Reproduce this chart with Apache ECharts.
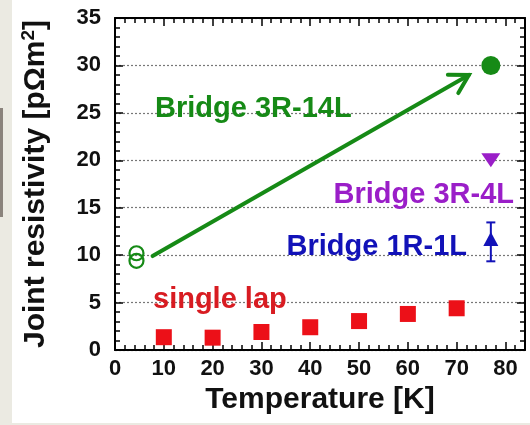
<!DOCTYPE html>
<html><head><meta charset="utf-8">
<script src="https://cdn.jsdelivr.net/npm/echarts@6/dist/echarts.min.js"></script>
<style>html,body{margin:0;padding:0;background:#fff}#c{width:530px;height:425px}</style>
</head><body><div id="c"></div>
<script>
// ---- data ----
const xTickValues = [0, 10, 20, 30, 40, 50, 60, 70, 80];
const yTickValues = [0, 5, 10, 15, 20, 25, 30, 35];
const singleLapT = [10, 20, 30, 40, 50, 60, 70];
const singleLapR = [1.35, 1.3, 1.9, 2.4, 3.05, 3.8, 4.4];
const bridge14LOpenT = [4.4, 4.4];
const bridge14LOpenR = [10.2, 9.4];
const bridge14LT = [77];
const bridge14LR = [30.0];
const bridge4LT = [77];
const bridge4LR = [20.0];
const bridge1LT = [77];
const bridge1LR = [11.7];
const bridge1LLow = [9.35];
const bridge1LHigh = [13.45];
const arrowFrom = [7.7, 9.9];
const arrowTo = [72.5, 29.0];
const labels = ['Bridge 3R-14L', 'Bridge 3R-4L', 'Bridge 1R-1L', 'single lap'];

const GREEN = '#168a16', RED = '#ec1018', PURPLE = '#9a1ec8', BLUE = '#1212b8';
const FONT = '"Liberation Sans", Arial, sans-serif';
const zip = (a, b) => a.map((v, i) => [v, b[i]]);

const chart = echarts.init(document.getElementById('c'));

function xAxisDef(pos, major) {
  return {
    type: 'value', position: pos, min: 0, max: 84, interval: major ? 10 : 2,
    axisLine: { show: major, onZero: false, lineStyle: { color: '#000', width: 2 } },
    axisTick: { show: true, inside: true, length: major ? 8 : 5, lineStyle: { color: '#000', width: 1.5 } },
    axisLabel: {
      show: major && pos === 'bottom', showMaxLabel: false, margin: 8,
      color: '#111', fontSize: 22, fontWeight: 'bold', fontFamily: FONT,
      formatter: v => (xTickValues.indexOf(v) >= 0 ? String(v) : '')
    },
    splitLine: { show: false },
    name: (major && pos === 'bottom') ? 'Temperature [K]' : '',
    nameLocation: 'middle', nameGap: 35,
    nameTextStyle: { color: '#111', fontSize: 30, fontWeight: 'bold', fontFamily: FONT }
  };
}
function yAxisDef(pos) {
  const left = pos === 'left';
  return {
    type: 'value', position: pos, min: 0, max: 35, interval: 5,
    axisLine: { show: true, onZero: false, lineStyle: { color: '#000', width: 2 } },
    axisTick: { show: true, inside: true, length: 8, lineStyle: { color: '#000', width: 1.5 } },
    minorTick: { show: true, splitNumber: 5, length: 5, lineStyle: { color: '#000', width: 1.5 } },
    axisLabel: {
      show: left, margin: 14, color: '#111', fontSize: 22, fontWeight: 'bold', fontFamily: FONT,
      formatter: v => (yTickValues.indexOf(v) >= 0 ? String(v) : '')
    },
    splitLine: { show: left, lineStyle: { type: [2, 2], color: '#777', width: 1.2 } },
    name: left ? 'Joint resistivity [pΩm{sup|2}]' : '',
    nameLocation: 'middle', nameGap: 63,
    nameTextStyle: {
      color: '#111', fontSize: 30, fontWeight: 'bold', fontFamily: FONT,
      rich: { sup: { fontSize: 19, fontWeight: 'bold', fontFamily: FONT, color: '#111', verticalAlign: 'top', padding: [0, 0, 14, 0] } }
    }
  };
}

const option = {
  backgroundColor: '#fff',
  animation: false,
  grid: { left: 115, top: 18, right: 5, bottom: 75, containLabel: false },
  xAxis: [xAxisDef('bottom', true), xAxisDef('bottom', false), xAxisDef('top', true), xAxisDef('top', false)],
  yAxis: [yAxisDef('left'), yAxisDef('right')],
  graphic: [
    { type: 'rect', shape: { x: 0, y: 0, width: 12, height: 425 }, style: { fill: '#ebeae2' }, silent: true },
    { type: 'rect', shape: { x: 0, y: 423, width: 530, height: 2 }, style: { fill: '#ebeae2' }, silent: true },
    { type: 'rect', shape: { x: 0, y: 108, width: 3, height: 109 }, style: { fill: '#8a837c' }, silent: true },
    { type: 'text', x: 155, y: 109, style: { text: labels[0], fill: GREEN, font: 'bold 29px ' + FONT, verticalAlign: 'middle', align: 'left' }, z: 10 },
    { type: 'text', x: 514, y: 195, style: { text: labels[1], fill: PURPLE, font: 'bold 29px ' + FONT, verticalAlign: 'middle', align: 'right' }, z: 10 },
    { type: 'text', x: 467, y: 247, style: { text: labels[2], fill: BLUE, font: 'bold 29px ' + FONT, verticalAlign: 'middle', align: 'right' }, z: 10 },
    { type: 'text', x: 153, y: 300, style: { text: labels[3], fill: '#d81c22', font: 'bold 29px ' + FONT, verticalAlign: 'middle', align: 'left' }, z: 10 }
  ],
  series: [
    {
      type: 'custom', name: 'arrow', xAxisIndex: 0, yAxisIndex: 0,
      data: [[arrowFrom[0], arrowFrom[1], arrowTo[0], arrowTo[1]]],
      encode: { x: [0, 2], y: [1, 3] },
      renderItem: (params, api) => {
        const p1 = api.coord([api.value(0), api.value(1)]);
        const p2 = api.coord([api.value(2), api.value(3)]);
        const ang = Math.atan2(p1[1] - p2[1], p1[0] - p2[0]);
        const L = 21, spread = Math.PI / 6;
        const a1 = [p2[0] + L * Math.cos(ang - spread), p2[1] + L * Math.sin(ang - spread)];
        const a2 = [p2[0] + L * Math.cos(ang + spread), p2[1] + L * Math.sin(ang + spread)];
        const style = { stroke: GREEN, lineWidth: 4, fill: null, lineCap: 'round', lineJoin: 'miter' };
        return { type: 'group', children: [
          { type: 'line', shape: { x1: p1[0], y1: p1[1], x2: p2[0], y2: p2[1] }, style },
          { type: 'polyline', shape: { points: [a1, p2, a2] }, style }
        ] };
      }
    },
    {
      type: 'custom', name: 'errorbar', xAxisIndex: 0, yAxisIndex: 0,
      data: bridge1LT.map((t, i) => [t, bridge1LLow[i], bridge1LHigh[i]]),
      encode: { x: 0, y: [1, 2] },
      renderItem: (params, api) => {
        const lo = api.coord([api.value(0), api.value(1)]);
        const hi = api.coord([api.value(0), api.value(2)]);
        const w = 4.5;
        const style = { stroke: BLUE, lineWidth: 2 };
        return { type: 'group', children: [
          { type: 'line', shape: { x1: lo[0], y1: lo[1], x2: hi[0], y2: hi[1] }, style },
          { type: 'line', shape: { x1: lo[0] - w, y1: lo[1], x2: lo[0] + w, y2: lo[1] }, style },
          { type: 'line', shape: { x1: hi[0] - w, y1: hi[1], x2: hi[0] + w, y2: hi[1] }, style }
        ] };
      }
    },
    { type: 'scatter', name: 'single lap', data: zip(singleLapT, singleLapR), symbol: 'rect', symbolSize: 16, itemStyle: { color: RED, opacity: 1 } },
    { type: 'scatter', name: 'Bridge 3R-14L open', data: zip(bridge14LOpenT, bridge14LOpenR), symbol: 'circle', symbolSize: 14,
      itemStyle: { color: 'rgba(255,255,255,0)', borderColor: GREEN, borderWidth: 2.2, opacity: 1 } },
    { type: 'scatter', name: 'Bridge 3R-14L', data: zip(bridge14LT, bridge14LR), symbol: 'circle', symbolSize: 19, itemStyle: { color: GREEN, opacity: 1 } },
    { type: 'scatter', name: 'Bridge 3R-4L', data: zip(bridge4LT, bridge4LR), symbol: 'triangle', symbolRotate: 180, symbolSize: [19, 14], itemStyle: { color: PURPLE, opacity: 1 } },
    { type: 'scatter', name: 'Bridge 1R-1L', data: zip(bridge1LT, bridge1LR), symbol: 'triangle', symbolSize: [15, 14], itemStyle: { color: BLUE, opacity: 1 } }
  ]
};
chart.setOption(option);
</script>
</body></html>
